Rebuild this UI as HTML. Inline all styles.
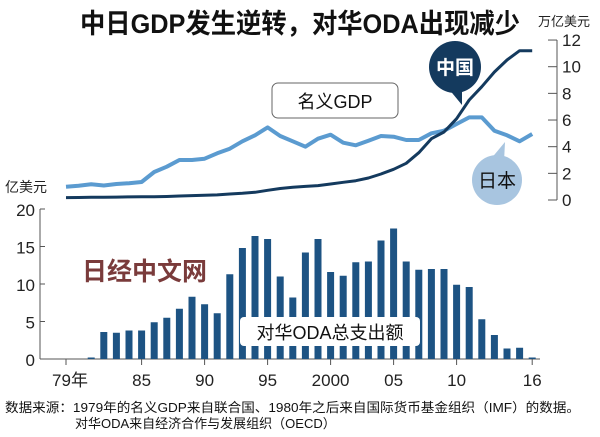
<!DOCTYPE html>
<html><head><meta charset="utf-8"><style>
body{margin:0;background:#fff;width:600px;height:437px;overflow:hidden}
svg{display:block}
text{font-family:"Liberation Sans","Noto Sans CJK SC",sans-serif}
</style></head><body>
<svg id="s" width="600" height="437" viewBox="0 0 600 437">
<text x="300" y="33" text-anchor="middle" font-size="27" font-weight="bold" fill="#111" textLength="440" lengthAdjust="spacingAndGlyphs">中日GDP发生逆转，对华ODA出现减少</text>
<text x="538" y="26" font-size="13" fill="#222">万亿美元</text>
<text x="5" y="192" font-size="14" fill="#222">亿美元</text>
<rect x="272" y="83" width="126" height="35" rx="6" fill="#fff" stroke="#666" stroke-width="1"/>
<text x="335" y="108" text-anchor="middle" font-size="18" fill="#111">名义GDP</text>
</svg>
<script>
var s=document.getElementById('s'),NS='http://www.w3.org/2000/svg';
function el(t,a,txt){var e=document.createElementNS(NS,t);for(var k in a)e.setAttribute(k,a[k]);if(txt)e.textContent=txt;s.appendChild(e);return e;}
function X(y){return 66+(y-1979)*12.6;}
el('line',{x1:557,y1:40,x2:557,y2:200,stroke:'#555','stroke-width':1});
for(var v=0;v<=12;v+=2){var y=200-v*13.33;el('line',{x1:548,y1:y,x2:557,y2:y,stroke:'#555'});el('text',{x:562,y:y+6,'font-size':17,fill:'#222'},String(v));}
var B=359,K=7.5;
el('line',{x1:40,y1:B,x2:540,y2:B,stroke:'#555'});
el('line',{x1:40,y1:209,x2:40,y2:B,stroke:'#555'});
for(var v=0;v<=20;v+=5){var y=B-v*K;el('line',{x1:40,y1:y,x2:45,y2:y,stroke:'#555'});el('text',{x:35,y:y+7,'font-size':17,fill:'#222','text-anchor':'end'},String(v));}
var lab={1979:'79年',1985:'85',1990:'90',1995:'95',2000:'2000',2005:'05',2010:'10',2016:'16'};
for(var yr in lab){var x=X(+yr);el('line',{x1:x,y1:B,x2:x,y2:B+6,stroke:'#555'});el('text',{x:x+(yr==1979?4:0),y:B+27,'font-size':17,fill:'#222','text-anchor':'middle'},lab[yr]);}
var oda=[0,0,0.2,3.6,3.5,3.8,3.8,4.9,5.5,6.7,8.3,7.3,6.1,11.3,14.8,16.4,16.0,11.0,8.2,14.2,16.0,11.6,11.1,12.9,13.0,15.8,17.4,13.0,11.9,12.0,12.0,9.9,9.6,5.3,3.2,1.4,1.5,0.2];
oda.forEach(function(v,i){if(v>0)el('rect',{x:X(1979+i)-3.5,y:B-v*K,width:7,height:v*K,fill:'#1d5383'});});
var jp=[1.0,1.07,1.18,1.09,1.2,1.26,1.35,2.1,2.5,3.0,3.0,3.1,3.5,3.85,4.4,4.85,5.45,4.8,4.4,4.0,4.6,4.9,4.3,4.1,4.45,4.8,4.75,4.5,4.5,5.0,5.2,5.7,6.2,6.2,5.2,4.85,4.4,4.95];
var cn=[0.18,0.19,0.2,0.2,0.22,0.23,0.24,0.24,0.26,0.3,0.33,0.36,0.38,0.45,0.5,0.58,0.73,0.86,0.95,1.02,1.08,1.2,1.33,1.45,1.65,1.95,2.3,2.75,3.55,4.6,5.1,6.1,7.5,8.5,9.6,10.5,11.2,11.2];
function pts(a){return a.map(function(v,i){return X(1979+i).toFixed(1)+','+(200-v*13.33).toFixed(1);}).join(' ');}
el('polyline',{points:pts(jp),fill:'none',stroke:'#5b9bd0','stroke-width':4,'stroke-linejoin':'round'});
el('polyline',{points:pts(cn),fill:'none',stroke:'#143a5e','stroke-width':3,'stroke-linejoin':'round'});
el('path',{d:'M448,88 L462,105 L462,86 Z',fill:'#143a5e'});
el('circle',{cx:455,cy:67,r:26,fill:'#143a5e'});
el('text',{x:455,y:74,'font-size':19,'font-weight':'bold',fill:'#fff','text-anchor':'middle'},'中国');
el('path',{d:'M490,160 L505,142 L504,162 Z',fill:'#a8c5e0'});
el('circle',{cx:497,cy:180,r:25,fill:'#a8c5e0'});
el('text',{x:497,y:187,'font-size':19,fill:'#111','text-anchor':'middle'},'日本');
el('rect',{x:240,y:317,width:180,height:29,rx:4,fill:'#fff'});
el('text',{x:330,y:339,'font-size':18,fill:'#111','text-anchor':'middle'},'对华ODA总支出额');
el('text',{x:82,y:280,'font-size':25,'font-weight':'bold',fill:'#7a3b3b',stroke:'#fff','stroke-width':2,'paint-order':'stroke'},'日经中文网');
el('text',{x:5,y:412,'font-size':13,fill:'#111',textLength:575,lengthAdjust:'spacingAndGlyphs'},'数据来源：1979年的名义GDP来自联合国、1980年之后来自国际货币基金组织（IMF）的数据。');
el('text',{x:75,y:428,'font-size':13,fill:'#111'},'对华ODA来自经济合作与发展组织（OECD）');
</script>
</body></html>
